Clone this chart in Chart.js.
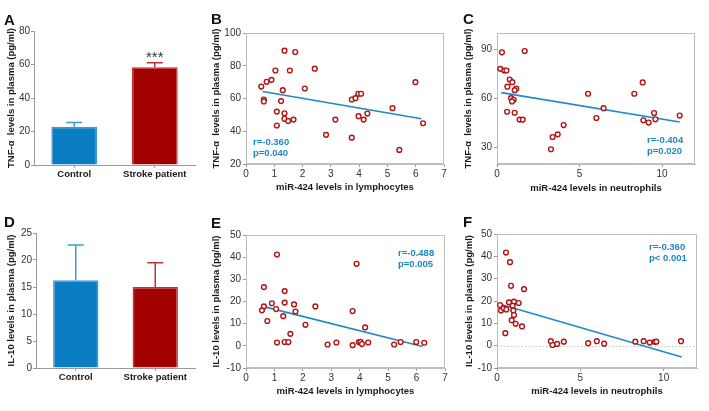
<!DOCTYPE html>
<html>
<head>
<meta charset="utf-8">
<title>TNF-α / IL-10 and miR-424</title>
<script src="https://cdn.jsdelivr.net/npm/chart.js@4"></script>
<style>
  body { margin: 0; background: #fff; font-family: "Liberation Sans", Arial, sans-serif; }
  #fig { position: relative; width: 709px; height: 411px; overflow: hidden; }
  canvas, .lbl, .stat { position: absolute; }
  .lbl { font-weight: bold; font-size: 15px; line-height: 15px; color: #111; }
  .stat { font-weight: bold; font-size: 9.5px; line-height: 10.7px; color: #1b87c6; white-space: pre; }
</style>
</head>
<body>
<div id="fig">
  <canvas id="cA" width="205" height="205" style="left:0;top:0"></canvas>
  <canvas id="cB" width="246" height="205" style="left:206px;top:0"></canvas>
  <canvas id="cC" width="257" height="205" style="left:452px;top:0"></canvas>
  <canvas id="cD" width="205" height="206" style="left:0;top:205px"></canvas>
  <canvas id="cE" width="246" height="206" style="left:206px;top:205px"></canvas>
  <canvas id="cF" width="257" height="206" style="left:452px;top:205px"></canvas>

  <div class="lbl" style="left:4px;top:12px">A</div>
  <div class="lbl" style="left:211px;top:11px">B</div>
  <div class="lbl" style="left:463px;top:11px">C</div>
  <div class="lbl" style="left:4px;top:214px">D</div>
  <div class="lbl" style="left:211px;top:215px">E</div>
  <div class="lbl" style="left:463px;top:214px">F</div>

  <div class="stat" style="left:253px;top:137px">r=-0.360<br>p=0.040</div>
  <div class="stat" style="left:647px;top:135px">r=-0.404<br>p=0.020</div>
  <div class="stat" style="left:398px;top:248px">r=-0.488<br>p=0.005</div>
  <div class="stat" style="left:649px;top:242px">r=-0.360<br>p&lt; 0.001</div>
</div>

<script>
// bar panels (A: TNF-α, D: IL-10)
const groups = ['Control', 'Stroke patient'];
const tnfMean = [22.9, 58.3];
const tnfErr = [2.4, 2.8];
const tnfSig = ['', '***'];
const il10Mean = [16.25, 15.0];
const il10Err = [6.55, 4.5];

// B: lymphocytes vs TNF-α
const lymTnfX = [1.36, 1.74, 1.04, 1.55, 2.43, 0.90, 0.73, 0.54, 2.08, 1.30, 5.99, 0.63, 0.63, 1.24, 3.74, 3.87, 3.97, 4.07, 1.09, 1.36, 1.36, 1.49, 1.68, 3.16, 3.98, 4.16, 4.29, 5.18, 6.26, 1.09, 2.83, 3.74, 5.42];
const lymTnfY = [89.2, 88.4, 77.1, 77.1, 78.2, 71.4, 70.2, 67.3, 66.1, 65.1, 70.0, 59.4, 58.2, 58.4, 59.4, 60.2, 62.9, 62.9, 52.0, 51.0, 47.6, 46.3, 47.1, 47.1, 49.2, 47.1, 50.8, 54.1, 44.9, 43.5, 37.8, 36.1, 28.6];
const lymTnfFitX = [0.59, 6.20];
const lymTnfFitY = [64.3, 47.6];

// C: neutrophils vs TNF-α
const neuTnfX = [0.30, 1.68, 0.20, 0.44, 0.57, 0.77, 0.93, 0.63, 1.17, 1.07, 0.85, 1.01, 0.91, 0.61, 1.07, 1.37, 1.56, 5.52, 8.32, 8.83, 6.46, 6.02, 9.52, 9.60, 8.87, 9.19, 11.07, 4.04, 3.68, 3.37, 3.27];
const neuTnfY = [88.2, 89.0, 78.1, 77.1, 77.1, 71.6, 70.0, 67.2, 66.1, 65.1, 60.2, 59.2, 58.2, 51.9, 51.3, 47.1, 47.1, 62.9, 62.9, 69.8, 54.1, 48.1, 51.1, 47.3, 46.7, 45.3, 49.6, 43.8, 38.1, 36.5, 29.0];
const neuTnfFitX = [0.26, 11.07];
const neuTnfFitY = [63.6, 45.6];

// E: lymphocytes vs IL-10
const lymIlX = [1.09, 3.89, 0.63, 1.36, 0.91, 1.36, 1.69, 2.44, 0.63, 0.56, 1.06, 1.74, 3.75, 1.31, 0.75, 2.09, 4.19, 1.56, 1.09, 1.36, 1.49, 2.87, 3.18, 3.75, 3.97, 4.03, 4.08, 4.30, 5.21, 5.44, 5.99, 6.27];
const lymIlY = [41.2, 37.0, 26.5, 24.7, 19.2, 19.5, 18.7, 17.8, 17.8, 16.0, 16.6, 15.5, 15.7, 13.4, 11.2, 9.5, 8.3, 5.4, 1.5, 1.7, 1.7, 0.6, 1.5, 0.3, 1.7, 1.8, 0.8, 1.5, 0.6, 1.7, 1.7, 1.4];
const lymIlFitX = [0.59, 6.21];
const lymIlFitY = [17.8, -0.3];

// F: neutrophils vs IL-10
const neuIlX = [0.54, 0.78, 0.84, 1.62, 0.18, 0.24, 0.40, 0.56, 0.72, 1.02, 1.30, 0.94, 0.98, 1.02, 0.88, 1.12, 1.50, 0.50, 3.23, 3.33, 3.61, 4.01, 5.47, 5.99, 6.43, 8.30, 8.80, 9.16, 9.46, 9.56, 11.04];
const neuIlY = [41.7, 37.4, 26.8, 25.3, 18.2, 15.8, 16.7, 16.2, 19.4, 19.7, 19.1, 17.9, 15.8, 13.7, 11.4, 9.8, 8.6, 5.6, 2.0, 0.3, 0.8, 1.8, 1.1, 2.0, 0.9, 1.8, 2.0, 1.4, 1.7, 1.8, 2.0];
const neuIlFitX = [0.20, 11.08];
const neuIlFitY = [18.5, -5.1];

// axis ticks
const tnfBarTicks = [0, 20, 40, 60, 80];
const il10BarTicks = [0, 5, 10, 15, 20, 25];
const lymTicks = [0, 1, 2, 3, 4, 5, 6, 7];
const neuTicks = [0, 5, 10];
const tnfScatTicksB = [20, 40, 60, 80, 100];
const tnfScatTicksC = [30, 60, 90];
const ilScatTicks = [-10, 0, 10, 20, 30, 40, 50];

const TNF_TITLE = 'TNF-α  levels in plasma (pg/ml)';
const IL_TITLE = 'IL-10 levels in plasma (pg/ml)';

Chart.defaults.font.family = '"Liberation Sans", Arial, sans-serif';
Chart.defaults.font.size = 10;
Chart.defaults.color = '#333';
Chart.defaults.animation = false;
Chart.defaults.responsive = false;
Chart.defaults.devicePixelRatio = 1;
Chart.defaults.plugins.legend.display = false;
Chart.defaults.plugins.tooltip.enabled = false;

// grey frame around scatter plots, optional dotted zero line
const boxPlugin = {
  id: 'box',
  beforeDatasetsDraw(chart, args, opts) {
    if (!opts.display) return;
    const a = chart.chartArea, ctx = chart.ctx;
    ctx.save();
    if (opts.zero) {
      const y0 = Math.round(chart.scales.y.getPixelForValue(0)) + 0.5;
      ctx.strokeStyle = '#c4c4c4';
      ctx.setLineDash([1.5, 2]);
      ctx.beginPath(); ctx.moveTo(a.left, y0); ctx.lineTo(a.right, y0); ctx.stroke();
      ctx.setLineDash([]);
    }
    ctx.strokeStyle = '#bdbdbd';
    ctx.lineWidth = 1;
    ctx.strokeRect(Math.round(a.left) + 0.5, Math.round(a.top) + 0.5, Math.round(a.width) - 1, Math.round(a.height) - 1);
    ctx.restore();
  }
};

// upper error bars + significance stars on bar panels
const errPlugin = {
  id: 'errbars',
  afterDatasetsDraw(chart, args, opts) {
    if (!opts.err) return;
    const ctx = chart.ctx, ys = chart.scales.y;
    const ds = chart.data.datasets[0];
    chart.getDatasetMeta(0).data.forEach((bar, i) => {
      const top = ys.getPixelForValue(ds.data[i] + opts.err[i]);
      ctx.save();
      ctx.strokeStyle = ds.borderColor[i];
      ctx.lineWidth = 1.5;
      ctx.beginPath();
      ctx.moveTo(bar.x, bar.y); ctx.lineTo(bar.x, top);
      ctx.moveTo(bar.x - 8, top); ctx.lineTo(bar.x + 8, top);
      ctx.stroke();
      if (opts.sig && opts.sig[i]) {
        ctx.fillStyle = '#333';
        ctx.font = '15px "Liberation Sans", Arial, sans-serif';
        ctx.textAlign = 'center';
        ctx.textBaseline = 'alphabetic';
        ctx.fillText(opts.sig[i], bar.x, top - 1);
      }
      ctx.restore();
    });
  }
};
Chart.register(boxPlugin, errPlugin);

function yAxis(min, max, ticks, title, titlePad, width, tickPad) {
  return {
    type: 'linear', position: 'left', min, max,
    afterBuildTicks: s => { s.ticks = ticks.map(v => ({ value: v })); },
    afterFit: s => { s.width = width; },
    border: { color: '#9a9a9a' },
    grid: { drawOnChartArea: false, tickLength: 3, tickColor: '#9a9a9a' },
    ticks: { padding: tickPad, color: '#333' },
    title: { display: true, text: title, color: '#1a1a1a', font: { size: 9.5, weight: 'bold' }, padding: { top: titlePad, bottom: 0 } }
  };
}

function barChart(id, means, errs, sig, yMax, yTicks, yTitle, yW, titlePad, pad, xH) {
  new Chart(document.getElementById(id), {
    type: 'bar',
    data: {
      labels: groups,
      datasets: [{
        data: means,
        backgroundColor: ['#0a7cc1', '#a30000'],
        borderColor: ['#3d9ad6', '#c23232'],
        borderWidth: 1.5,
        barPercentage: 0.57,
        categoryPercentage: 1
      }]
    },
    options: {
      layout: { padding: pad },
      scales: {
        x: {
          afterFit: s => { s.height = xH; },
          border: { color: '#9a9a9a' },
          grid: { drawOnChartArea: false, offset: false, tickLength: 3, tickColor: '#9a9a9a' },
          ticks: { padding: 1, color: '#1a1a1a', font: { size: 9.5, weight: 'bold' } }
        },
        y: yAxis(0, yMax, yTicks, yTitle, titlePad, yW, 1)
      },
      plugins: { errbars: { err: errs, sig: sig } }
    }
  });
}

function scatterChart(id, xs, ys, fx, fy, o) {
  new Chart(document.getElementById(id), {
    type: 'scatter',
    data: {
      datasets: [{
        data: xs.map((x, i) => ({ x, y: ys[i] })),
        pointRadius: 2.4,
        pointBorderWidth: 1.4,
        pointBackgroundColor: '#fff',
        pointBorderColor: '#b01414'
      }, {
        data: fx.map((x, i) => ({ x, y: fy[i] })),
        showLine: true,
        pointRadius: 0,
        borderColor: '#2188c4',
        borderWidth: 1.6
      }]
    },
    options: {
      layout: { padding: o.pad },
      scales: {
        x: {
          type: 'linear', position: 'bottom', min: 0, max: o.xMax,
          afterBuildTicks: s => { s.ticks = o.xTicks.map(v => ({ value: v })); },
          afterFit: s => { s.height = o.xH; },
          border: { color: '#bdbdbd' },
          grid: { drawOnChartArea: false, tickLength: 3, tickColor: '#9a9a9a' },
          ticks: { padding: 1, color: '#333' },
          title: { display: true, text: o.xTitle, color: '#1a1a1a', font: { size: 9.5, weight: 'bold' }, padding: { top: 0, bottom: o.xTitlePad } }
        },
        y: yAxis(o.yMin, o.yMax, o.yTicks, o.yTitle, o.yTitlePad, o.yW, 2)
      },
      plugins: { box: { display: true, zero: !!o.zero } }
    }
  });
}

barChart('cA', tnfMean, tnfErr, tnfSig, 80, tnfBarTicks, TNF_TITLE, 34, 6, { top: 31, right: 10, left: 0, bottom: 0 }, 40);
barChart('cD', il10Mean, il10Err, null, 25, il10BarTicks, IL_TITLE, 36, 6, { top: 28, right: 10, left: 0, bottom: 0 }, 43);

scatterChart('cB', lymTnfX, lymTnfY, lymTnfFitX, lymTnfFitY, {
  xMax: 7, xTicks: lymTicks, yMin: 20, yMax: 100, yTicks: tnfScatTicksB,
  xTitle: 'miR-424 levels in lymphocytes', yTitle: TNF_TITLE,
  pad: { top: 33, right: 8, left: 0, bottom: 0 }, yW: 40, xH: 41, yTitlePad: 5, xTitlePad: 12
});
scatterChart('cC', neuTnfX, neuTnfY, neuTnfFitX, neuTnfFitY, {
  xMax: 12, xTicks: neuTicks, yMin: 20, yMax: 100, yTicks: tnfScatTicksC,
  xTitle: 'miR-424 levels in neutrophils', yTitle: TNF_TITLE,
  pad: { top: 33, right: 14, left: 0, bottom: 0 }, yW: 45, xH: 41, yTitlePad: 11, xTitlePad: 11
});
scatterChart('cE', lymIlX, lymIlY, lymIlFitX, lymIlFitY, {
  xMax: 7, xTicks: lymTicks, yMin: -10, yMax: 50, yTicks: ilScatTicks,
  xTitle: 'miR-424 levels in lymphocytes', yTitle: IL_TITLE,
  pad: { top: 30, right: 7, left: 0, bottom: 0 }, yW: 40, xH: 43, yTitlePad: 5, xTitlePad: 14
});
scatterChart('cF', neuIlX, neuIlY, neuIlFitX, neuIlFitY, {
  xMax: 12, xTicks: neuTicks, yMin: -10, yMax: 50, yTicks: ilScatTicks,
  xTitle: 'miR-424 levels in neutrophils', yTitle: IL_TITLE,
  pad: { top: 29, right: 12, left: 0, bottom: 0 }, yW: 45, xH: 43, yTitlePad: 12, xTitlePad: 14, zero: true
});
</script>
</body>
</html>
